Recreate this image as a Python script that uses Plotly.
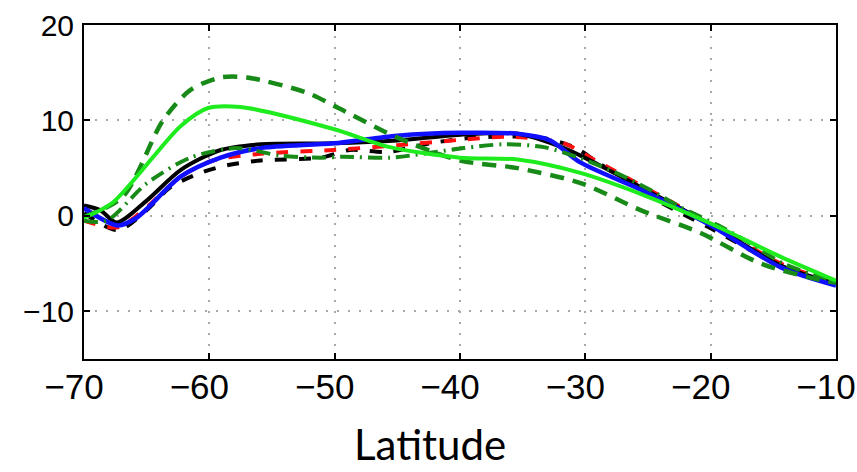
import plotly.graph_objects as go

# Light green solid
lg_x = [-70, -67.7, -62.3, -60.1, -57.5, -50.1, -45.6, -40, -35.4, -30.4, -25, -20, -14.4, -10]
lg_y = [-0.2, 1.4, 9.4, 11.3, 11.4, 9.1, 7.2, 6.1, 5.9, 4.5, 2.0, -0.8, -4.3, -6.8]

# Dark green dashed (upper)
gd_x = [-70, -66.9, -63.7, -61.5, -59.1, -57, -52.2, -49.7, -45, -40, -35.4, -30.3, -25.6, -20.8, -16, -11, -10]
gd_y = [-0.1, 2.0, 10.0, 13.2, 14.5, 14.5, 12.9, 11.3, 8.2, 5.8, 5.0, 3.4, 0.6, -1.8, -5.0, -6.8, -7.0]

# Dark green dash-dot (lower)
gdd_x = [-70, -68.2, -65, -61.5, -57.8, -54.3, -51.1, -49.3, -45.6, -39.7, -36.5, -33.3, -30.3, -27.7, -24.8, -22.4, -19.4, -16.8, -14.2, -11.2, -10]
gdd_y = [-0.5, -0.5, 3.4, 6.1, 7.1, 6.3, 6.1, 6.2, 6.1, 7.1, 7.5, 7.2, 6.0, 4.6, 2.7, 0.9, -1.0, -2.9, -5.0, -6.4, -6.8]

# Black solid
bk_x = [-70, -68.7, -67.4, -65, -62.3, -59.1, -55.9, -50.1, -45, -40, -35.4, -31.7, -29.6, -25, -20, -14.4, -10]
bk_y = [1.1, 0.6, -0.7, 1.6, 4.8, 6.9, 7.5, 7.6, 7.9, 8.5, 8.6, 7.1, 5.8, 2.6, -0.9, -5.2, -7.1]

# Blue solid
bl_x = [-70, -67.3, -65.8, -62.3, -59.1, -55.9, -50.1, -45, -40, -35.4, -32.8, -30.4, -25, -20, -14.4, -10]
bl_y = [0.8, -1.0, -0.2, 4.1, 6.1, 7.1, 7.6, 8.4, 8.7, 8.6, 7.9, 5.6, 2.4, -1.0, -5.4, -7.3]

# Red dashed
rd_x = [-70, -67.3, -65, -62.3, -59.7, -55.9, -50.1, -45, -39.7, -36, -31.7, -29.6, -25, -20, -14.4, -10]
rd_y = [-0.5, -1.2, 0.9, 4.1, 5.8, 6.5, 6.9, 7.4, 8.0, 8.3, 7.6, 6.1, 2.8, -0.8, -5.0, -7.0]

# Black dashed
kd_x = [-70, -67.3, -65, -63.1, -60.7, -58.6, -55.9, -51.1, -48.8, -45.8, -42.4, -38.9, -33.6, -30.9, -29, -24.8, -22.4, -20, -14.4, -10]
kd_y = [0.3, -1.5, 0.6, 3.0, 4.5, 5.3, 5.8, 6.1, 6.9, 6.7, 7.6, 8.2, 8.2, 7.2, 5.6, 2.0, 0.3, -1.3, -5.2, -7.0]

x_ticks = [-70, -60, -50, -40, -30, -20, -10]
x_ticktext = ["\u221270", "\u221260", "\u221250", "\u221240", "\u221230", "\u221220", "\u221210"]
y_ticks = [-10, 0, 10, 20]
y_ticktext = ["\u221210", "0", "10", "20"]
x_title = "Latitude"

DG = "#178a17"
LG = "#1eec1e"

fig = go.Figure()
series = [
    (kd_x, kd_y, "black", "dash", 4),
    (rd_x, rd_y, "#ff1010", "dash", 4),
    (bk_x, bk_y, "black", "solid", 4),
    (bl_x, bl_y, "#1010ff", "solid", 4.5),
    (gdd_x, gdd_y, DG, "14px,6px,2px,6px", 4),
    (gd_x, gd_y, DG, "14px,9px", 4.5),
    (lg_x, lg_y, LG, "solid", 4),
]
for xs, ys, c, d, w in series:
    fig.add_trace(go.Scatter(x=xs, y=ys, mode="lines",
                             line=dict(color=c, dash=d, width=w, shape="spline", smoothing=0.8),
                             showlegend=False, hoverinfo="skip"))

axis_common = dict(
    showline=True, linecolor="black", linewidth=2, mirror="ticks",
    ticks="inside", ticklen=6, tickcolor="black", tickwidth=1.5,
    showgrid=True, gridcolor="#a8a8a8", griddash="2px,9px", gridwidth=2,
    zeroline=False, automargin=False,
)

fig.update_xaxes(range=[-70, -10], tickvals=x_ticks, ticktext=x_ticktext,
                 tickfont=dict(family="Liberation Sans, Arial, sans-serif", size=35, color="black"),
                 ticklabelshift=-10, ticklabelstandoff=-4,
                 **axis_common)
fig.update_yaxes(range=[-15, 20], tickvals=y_ticks, ticktext=y_ticktext,
                 tickfont=dict(family="Liberation Sans, Arial, sans-serif", size=30, color="black"),
                 ticklabelstandoff=2,
                 **axis_common)

fig.add_annotation(text=x_title, xref="paper", yref="paper", x=0.46, y=-0.333,
                   xanchor="center", yanchor="bottom", showarrow=False, borderpad=0,
                   font=dict(family="Lato, Open Sans, sans-serif", size=42, color="black"))

fig.update_layout(
    width=857, height=472,
    margin=dict(l=84, r=21, t=25, b=113),
    paper_bgcolor="white", plot_bgcolor="white",
)

fig.write_html("out.html", config={"displayModeBar": False},
               post_script="document.body.style.margin='0px';document.body.style.overflow='hidden';")
